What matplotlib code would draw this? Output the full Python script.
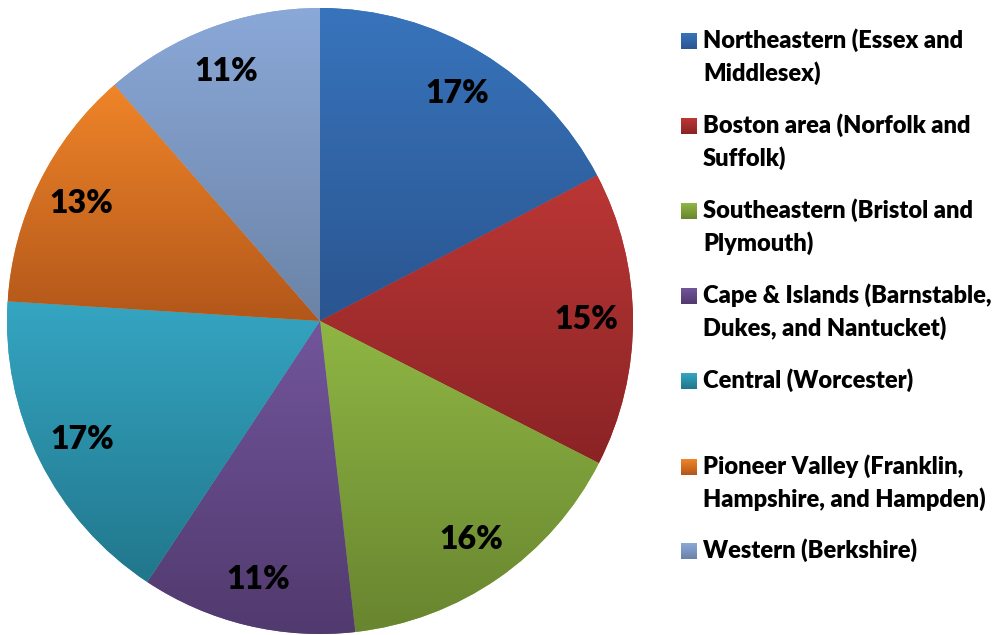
import numpy as np
import matplotlib
matplotlib.use("Agg")
import matplotlib.pyplot as plt
from matplotlib.colors import LinearSegmentedColormap

plt.rcParams['font.family'] = ['Lato', 'DejaVu Sans']

# share of respondents by region
regions = ["Northeastern (Essex and\nMiddlesex)",
           "Boston area (Norfolk and\nSuffolk)",
           "Southeastern (Bristol and\nPlymouth)",
           "Cape & Islands (Barnstable,\nDukes, and Nantucket)",
           "Central (Worcester)",
           "Pioneer Valley (Franklin,\nHampshire, and Hampden)",
           "Western (Berkshire)"]
shares = [17.3, 15.2, 15.7, 11.1, 16.7, 12.6, 11.4]

# gradient colours, top -> bottom of each slice
tops = ["#3874BC", "#BB3735", "#8FB644", "#72559C", "#35A5C2", "#F08529", "#8AA8D8"]
bottoms = ["#2A5590", "#8A2325", "#68852F", "#513A6E", "#21778C", "#B2571A", "#6B83A6"]

W, H = 1006, 635
fig = plt.figure(figsize=(W / 100, H / 100), dpi=100)

# pie axes: centre (320, 321) px, radius 313 px
cx, cy, r = 320, 321, 313
ax = fig.add_axes([(cx - r) / W, (H - cy - r) / H, 2 * r / W, 2 * r / H])
wedges, _, autotexts = ax.pie(shares, startangle=90, counterclock=False,
                              colors=tops, radius=1,
                              autopct='%.0f%%', pctdistance=0.85,
                              textprops=dict(fontsize=23, fontweight=800,
                                             color='black'))
for w, top, bot in zip(wedges, tops, bottoms):
    ext = w.get_path().get_extents()
    cmap = LinearSegmentedColormap.from_list('g', [top, bot])
    im = ax.imshow(np.linspace(0, 1, 256)[:, None], cmap=cmap, origin='upper',
                   extent=(ext.x0, ext.x1, ext.y0, ext.y1), aspect='auto',
                   zorder=1.5, interpolation='bilinear')
    im.set_clip_path(w)
for t in autotexts:
    t.set_zorder(5)
ax.set_xlim(-1, 1)
ax.set_ylim(-1, 1)
ax.set_aspect('auto')
ax.axis('off')

# legend drawn in pixel coordinates
lax = fig.add_axes([0, 0, 1, 1])
lax.set_xlim(0, W)
lax.set_ylim(H, 0)
lax.axis('off')
baselines = [48, 133, 218, 303, 388, 474, 558]
for label, top, bot, yb in zip(regions, tops, bottoms, baselines):
    cmap = LinearSegmentedColormap.from_list('g', [top, bot])
    lax.imshow(np.linspace(0, 1, 32)[:, None], cmap=cmap, origin='upper',
               extent=(681, 697, yb - 7 + 8, yb - 7 - 8), aspect='auto')
    for i, line in enumerate(label.split('\n')):
        lax.text(703, yb + 33 * i, line, fontsize=17, fontweight=800,
                 va='baseline', ha='left', color='black')
lax.set_xlim(0, W)
lax.set_ylim(H, 0)

fig.savefig("out.png", dpi=100, facecolor='white')
